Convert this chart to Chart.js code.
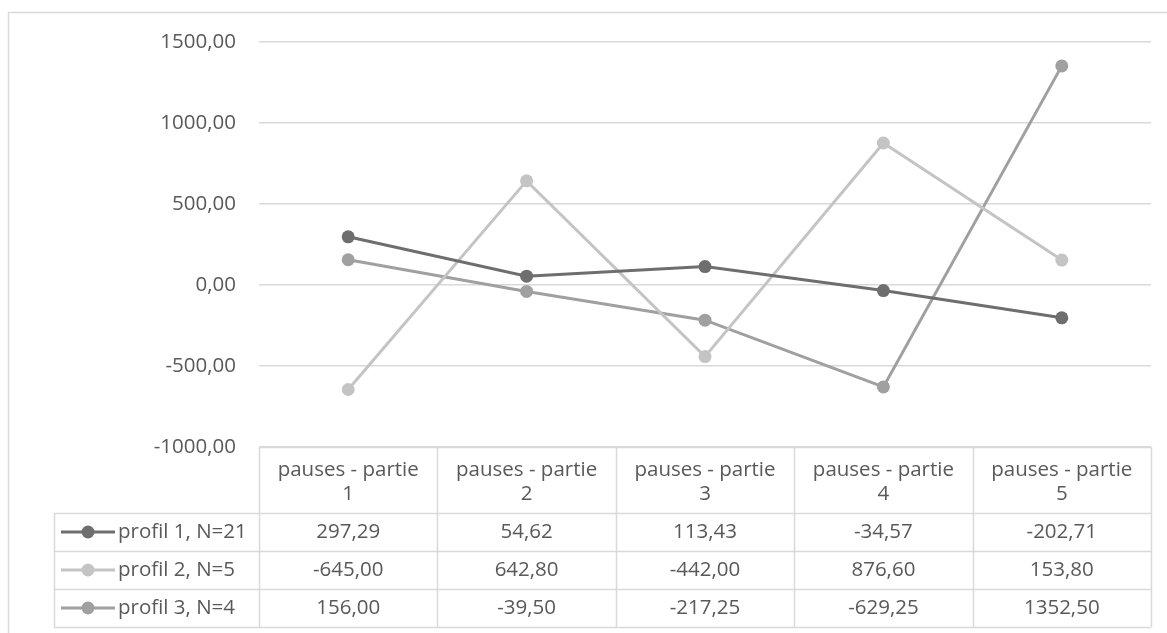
<!DOCTYPE html>
<html>
<head>
<meta charset="utf-8">
<script src="https://cdn.jsdelivr.net/npm/chart.js@4"></script>
<style>
  html, body { margin: 0; padding: 0; background: #fff; }
  #wrap { width: 1167px; height: 633px; position: relative; }
</style>
</head>
<body>
<div id="wrap"><canvas id="chart"></canvas></div>
<script>
const categories = ['pauses - partie 1', 'pauses - partie 2', 'pauses - partie 3', 'pauses - partie 4', 'pauses - partie 5'];
const headerLines = [['pauses - partie', '1'], ['pauses - partie', '2'], ['pauses - partie', '3'], ['pauses - partie', '4'], ['pauses - partie', '5']];
const seriesNames = ['profil 1, N=21', 'profil 2, N=5', 'profil 3, N=4'];
const profil1 = [297.29, 54.62, 113.43, -34.57, -202.71];
const profil2 = [-645.00, 642.80, -442.00, 876.60, 153.80];
const profil3 = [156.00, -39.50, -217.25, -629.25, 1352.50];
const yTicks = [-1000, -500, 0, 500, 1000, 1500];
const seriesColors = ['#6e6e6e', '#c4c4c4', '#a0a0a0'];

const FONT = '"Open Sans", sans-serif';
const TXT = '#595959';
const GRID = '#d9d9d9';

function fmt(v) {
    return v.toFixed(2).replace('.', ',');
}

const allSeries = [profil1, profil2, profil3];
const datasets = allSeries.map(function (vals, i) {
    return {
        label: seriesNames[i],
        data: vals,
        borderColor: seriesColors[i],
        backgroundColor: seriesColors[i],
        borderWidth: 3,
        pointRadius: 6.5,
        pointBorderWidth: 0,
        tension: 0
    };
});

// outer frame of the chart
const framePlugin = {
    id: 'frame',
    beforeDraw: function (chart) {
        const ctx = chart.ctx;
        ctx.save();
        ctx.strokeStyle = GRID;
        ctx.lineWidth = 1.5;
        ctx.strokeRect(8.5, 12.5, 1200, 700);
        ctx.restore();
    }
};

// data table under the plot, columns follow the x scale
const tablePlugin = {
    id: 'dataTable',
    afterDraw: function (chart) {
        const ctx = chart.ctx;
        const xs = chart.scales.x;
        const area = chart.chartArea;
        const n = categories.length;
        const w = (area.right - area.left) / n;
        const top = area.bottom;
        const headBottom = top + 66;
        const rowH = 38;
        const legendLeft = 54;
        const tableBottom = headBottom + rowH * seriesNames.length;

        ctx.save();
        ctx.strokeStyle = GRID;
        ctx.lineWidth = 1.5;
        ctx.beginPath();
        for (let i = 0; i <= n; i++) {
            const x = Math.round(area.left + i * w) + 0.5;
            ctx.moveTo(x, top);
            ctx.lineTo(x, tableBottom);
        }
        ctx.moveTo(legendLeft + 0.5, headBottom);
        ctx.lineTo(legendLeft + 0.5, tableBottom);
        ctx.moveTo(area.left, top + 0.5);
        ctx.lineTo(area.right, top + 0.5);
        for (let r = 0; r <= seriesNames.length; r++) {
            const y = Math.round(headBottom + r * rowH) + 0.5;
            ctx.moveTo(legendLeft, y);
            ctx.lineTo(area.right, y);
        }
        ctx.stroke();

        ctx.fillStyle = TXT;
        ctx.font = '20.5px ' + FONT;
        ctx.textAlign = 'center';
        ctx.textBaseline = 'middle';
        for (let i = 0; i < n; i++) {
            const cx = xs.getPixelForValue(i);
            ctx.fillText(headerLines[i][0], cx, top + 23);
            ctx.fillText(headerLines[i][1], cx, top + 47);
        }
        for (let r = 0; r < seriesNames.length; r++) {
            const cy = headBottom + r * rowH + rowH / 2;
            for (let i = 0; i < n; i++) {
                ctx.fillText(fmt(allSeries[r][i]), xs.getPixelForValue(i), cy);
            }
            // legend key
            ctx.strokeStyle = seriesColors[r];
            ctx.lineWidth = 3;
            ctx.beginPath();
            ctx.moveTo(61, cy);
            ctx.lineTo(115, cy);
            ctx.stroke();
            ctx.fillStyle = seriesColors[r];
            ctx.beginPath();
            ctx.arc(88, cy, 6.5, 0, Math.PI * 2);
            ctx.fill();
            ctx.fillStyle = TXT;
            ctx.textAlign = 'left';
            ctx.fillText(seriesNames[r], 118, cy);
            ctx.textAlign = 'center';
        }
        ctx.restore();
    }
};

new Chart(document.getElementById('chart'), {
    type: 'line',
    data: { labels: categories, datasets: datasets },
    options: {
        responsive: true,
        maintainAspectRatio: false,
        animation: false,
        layout: { padding: { left: 0, right: 16, top: 42, bottom: 186 } },
        plugins: {
            legend: { display: false },
            tooltip: { enabled: false }
        },
        scales: {
            x: {
                type: 'category',
                display: false,
                offset: true
            },
            y: {
                min: yTicks[0],
                max: yTicks[yTicks.length - 1],
                afterBuildTicks: function (scale) {
                    scale.ticks = yTicks.map(function (v) { return { value: v }; });
                },
                afterFit: function (scale) {
                    scale.width = 259;
                },
                border: { display: false },
                grid: { color: GRID, lineWidth: 1.5, drawTicks: false },
                ticks: {
                    padding: 23,
                    color: TXT,
                    font: { family: FONT, size: 20.5 },
                    callback: function (v) { return fmt(v); }
                }
            }
        }
    },
    plugins: [framePlugin, tablePlugin]
});
</script>
</body>
</html>
